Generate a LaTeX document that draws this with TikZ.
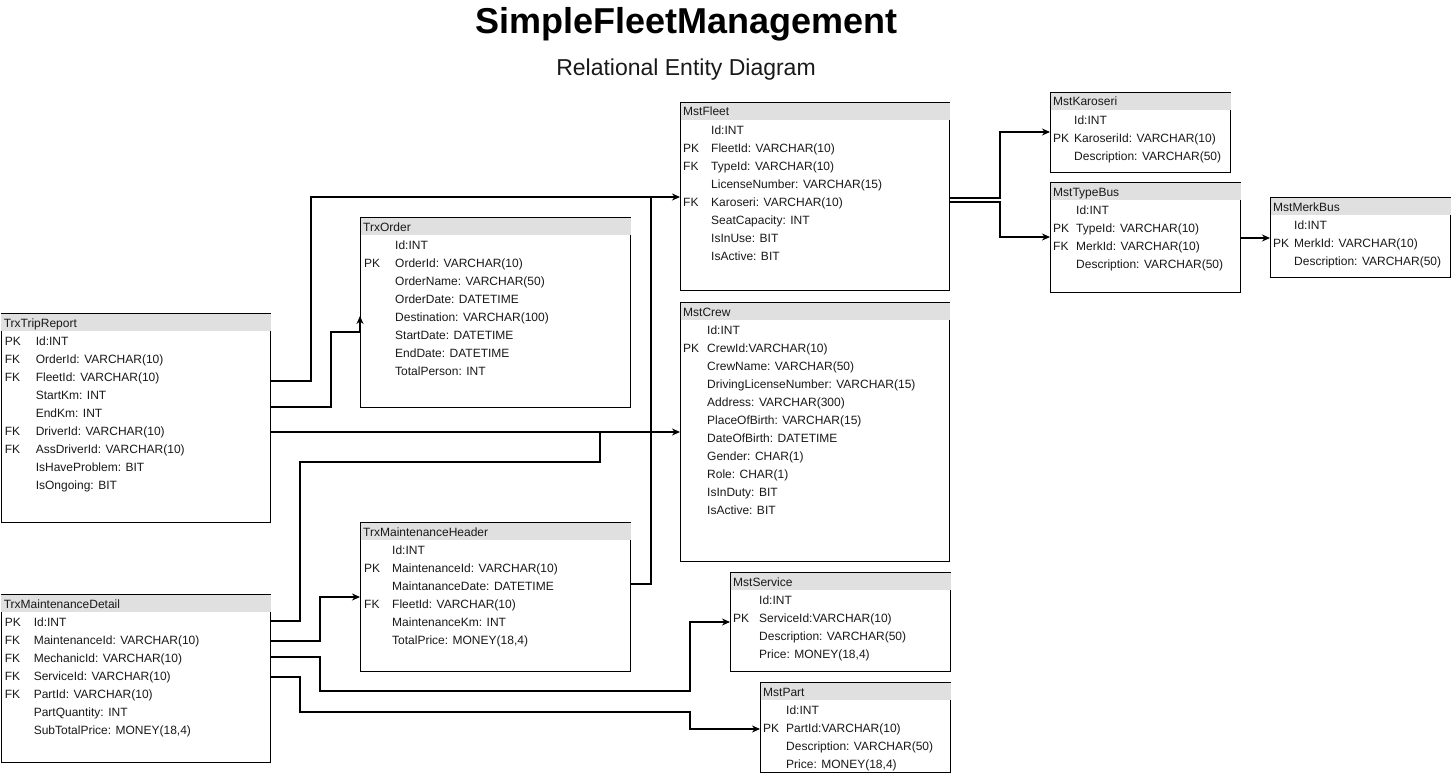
\documentclass[tikz,border=0pt]{standalone}
\usepackage{fontspec}
\setmainfont{Liberation Sans}
\usetikzlibrary{arrows.meta}
\definecolor{hdr}{RGB}{224,224,224}
\definecolor{txt}{RGB}{25,25,25}
\tikzset{
 ent/.style={draw=black, line width=1.2pt, fill=white, rectangle, inner sep=0pt, anchor=north west},
 rowtxt/.style={anchor=base west, inner sep=0pt, font=\fontsize{12}{14}\selectfont, text=txt},
 conn/.style={draw=black, line width=1.1pt},
 arr/.style={conn, -{Stealth[length=8pt,width=7pt]}},
}
\newcommand\ent[6]{%
 \node[ent, minimum width=#4pt, minimum height=#5pt] (#1) at (#2,-#3) {};
 \fill[hdr] ([shift={(0.6,-0.6)}]#1.north west) rectangle ([shift={(-0.6,-18)}]#1.north east);
 \node[rowtxt] (#1-title) at ([shift={(3,-14)}]#1.north west) {#6};
}
\newcommand\rows[4]{%
 \foreach \k/\f [count=\i from 0] in {#4} {
  \node[rowtxt] (#1-k\i) at ([shift={(#2,-32.2-18*\i)}]#1.north west) {\k};
  \node[rowtxt] (#1-f\i) at ([shift={(#3,-32.2-18*\i)}]#1.north west) {\f};
 }%
}
\begin{document}
\begin{tikzpicture}[x=1pt,y=1pt]
\useasboundingbox (0,0) rectangle (1451,-773);
\node[font=\bfseries\fontsize{36}{40}\selectfont, anchor=base] (title) at (686.5,-34) {SimpleFleetManagement};
\node[font=\fontsize{23}{27}\selectfont, anchor=base, text=txt] (subtitle) at (686,-76) {Relational Entity Diagram};

\ent{trip}{0.6}{313}{269.4}{209}{TrxTripReport}
\rows{trip}{4}{35}{PK/{Id:INT}, FK/{OrderId: VARCHAR(10)}, FK/{FleetId: VARCHAR(10)}, {}/{StartKm: INT}, {}/{EndKm: INT}, FK/{DriverId: VARCHAR(10)}, FK/{AssDriverId: VARCHAR(10)}, {}/{IsHaveProblem: BIT}, {}/{IsOngoing: BIT}}

\ent{mdet}{0.6}{594}{269.4}{168}{TrxMaintenanceDetail}
\rows{mdet}{4}{33}{PK/{Id:INT}, FK/{MaintenanceId: VARCHAR(10)}, FK/{MechanicId: VARCHAR(10)}, FK/{ServiceId: VARCHAR(10)}, FK/{PartId: VARCHAR(10)}, {}/{PartQuantity: INT}, {}/{SubTotalPrice: MONEY(18,4)}}

\ent{order}{360}{217}{270}{190}{TrxOrder}
\rows{order}{4}{35}{{}/{Id:INT}, PK/{OrderId: VARCHAR(10)}, {}/{OrderName: VARCHAR(50)}, {}/{OrderDate: DATETIME}, {}/{Destination: VARCHAR(100)}, {}/{StartDate: DATETIME}, {}/{EndDate: DATETIME}, {}/{TotalPerson: INT}}

\ent{mhead}{360}{522}{270}{149}{TrxMaintenanceHeader}
\rows{mhead}{4}{32}{{}/{Id:INT}, PK/{MaintenanceId: VARCHAR(10)}, {}/{MaintananceDate: DATETIME}, FK/{FleetId: VARCHAR(10)}, {}/{MaintenanceKm: INT}, {}/{TotalPrice: MONEY(18,4)}}

\ent{fleet}{680}{102}{269}{188}{MstFleet}
\rows{fleet}{3}{31}{{}/{Id:INT}, PK/{FleetId: VARCHAR(10)}, FK/{TypeId: VARCHAR(10)}, {}/{LicenseNumber: VARCHAR(15)}, FK/{Karoseri: VARCHAR(10)}, {}/{SeatCapacity: INT}, {}/{IsInUse: BIT}, {}/{IsActive: BIT}}

\ent{crew}{680}{302}{269}{259}{MstCrew}
\rows{crew}{3}{27}{{}/{Id:INT}, PK/{CrewId:VARCHAR(10)}, {}/{CrewName: VARCHAR(50)}, {}/{DrivingLicenseNumber: VARCHAR(15)}, {}/{Address: VARCHAR(300)}, {}/{PlaceOfBirth: VARCHAR(15)}, {}/{DateOfBirth: DATETIME}, {}/{Gender: CHAR(1)}, {}/{Role: CHAR(1)}, {}/{IsInDuty: BIT}, {}/{IsActive: BIT}}

\ent{service}{730}{572}{220}{99}{MstService}
\rows{service}{3}{29}{{}/{Id:INT}, PK/{ServiceId:VARCHAR(10)}, {}/{Description: VARCHAR(50)}, {}/{Price: MONEY(18,4)}}

\ent{part}{760}{682}{190}{90}{MstPart}
\rows{part}{3}{26}{{}/{Id:INT}, PK/{PartId:VARCHAR(10)}, {}/{Description: VARCHAR(50)}, {}/{Price: MONEY(18,4)}}

\ent{karoseri}{1050}{92}{180}{80}{MstKaroseri}
\rows{karoseri}{3}{24}{{}/{Id:INT}, PK/{KaroseriId: VARCHAR(10)}, {}/{Description: VARCHAR(50)}}

\ent{typebus}{1050}{182}{190}{110}{MstTypeBus}
\rows{typebus}{3}{26}{{}/{Id:INT}, PK/{TypeId: VARCHAR(10)}, FK/{MerkId: VARCHAR(10)}, {}/{Description: VARCHAR(50)}}

\ent{merkbus}{1270}{197}{180}{80}{MstMerkBus}
\rows{merkbus}{3}{24}{{}/{Id:INT}, PK/{MerkId: VARCHAR(10)}, {}/{Description: VARCHAR(50)}}

% connectors
\draw[arr] (trip.east |- 0,-381) -| (311,-197) -- (fleet.west |- 0,-197);
\draw[arr] (trip.east |- 0,-407) -| (331,-332) -- (order.west |- 0,-332) -- (order.west |- 0,-316);
\draw[arr] (trip.east |- 0,-432) -- (crew.west |- 0,-432);
\draw[conn] (mdet.east |- 0,-621) -| (300,-462) -| (600,-432);
\draw[conn] (mhead.east |- 0,-584) -| (651,-197);
\draw[arr] (mdet.east |- 0,-641) -| (320,-597) -- (mhead.west |- 0,-597);
\draw[arr] (mdet.east |- 0,-657) -| (320,-691) -| (690,-622) -- (service.west |- 0,-622);
\draw[arr] (mdet.east |- 0,-677) -| (300,-712) -| (690,-729) -- (part.west |- 0,-729);
\draw[arr] (fleet.east |- 0,-198) -| (1000,-132) -- (karoseri.west |- 0,-132);
\draw[arr] (fleet.east |- 0,-202) -| (1000,-237) -- (typebus.west |- 0,-237);
\draw[arr] (typebus.east |- 0,-238) -- (merkbus.west |- 0,-238);
\end{tikzpicture}
\end{document}
